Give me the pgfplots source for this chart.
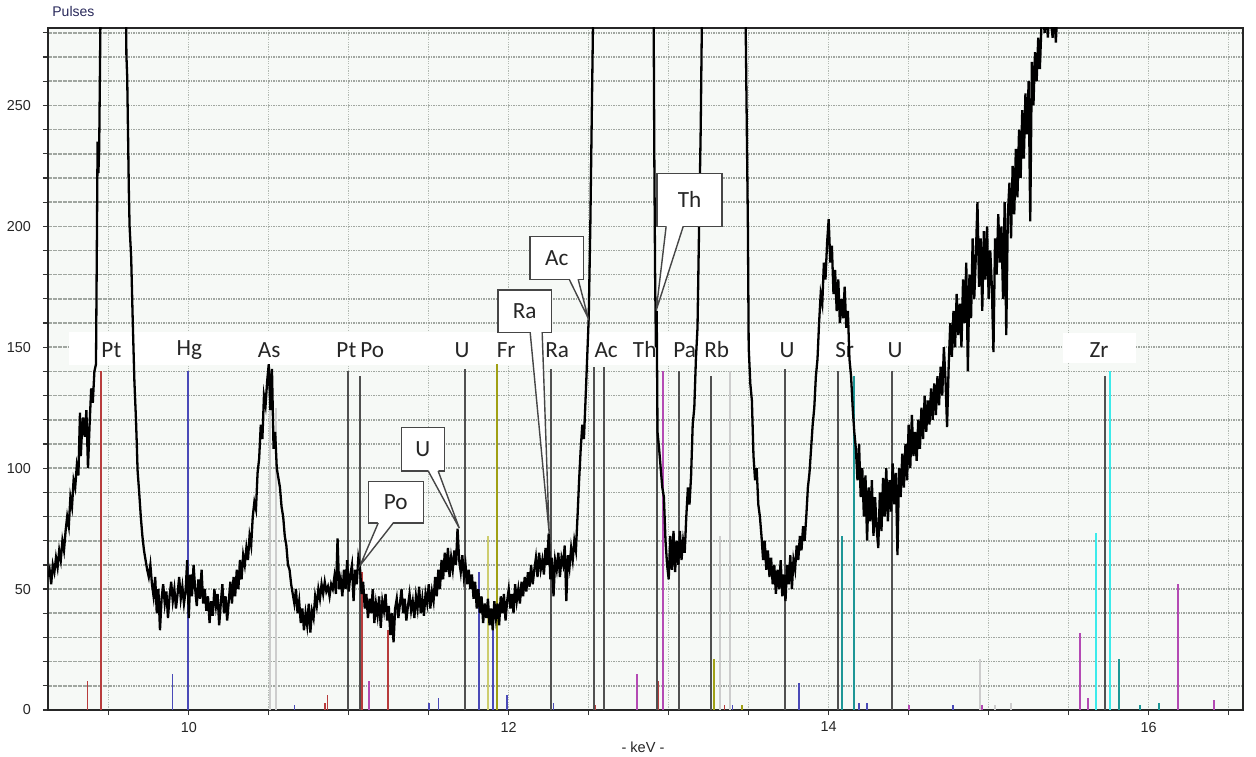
\documentclass[border=0pt]{standalone}
\usepackage{fontspec}
\setmainfont{Liberation Sans}
\newfontfamily\calib{Carlito}
\usepackage{pgfplots}
\pgfplotsset{compat=1.18}
\usetikzlibrary{calc}

\definecolor{plotbg}{RGB}{246,249,246}
\definecolor{gridh}{RGB}{160,166,160}
\definecolor{gridv}{RGB}{180,187,180}
\definecolor{ln}{RGB}{80,80,80}
\definecolor{lred}{RGB}{184,60,60}
\definecolor{lblue}{RGB}{74,74,184}
\definecolor{lgray}{RGB}{205,205,205}
\definecolor{lolive}{RGB}{160,160,20}
\definecolor{lolivel}{RGB}{205,205,110}
\definecolor{lmag}{RGB}{180,74,180}
\definecolor{lteal}{RGB}{30,150,150}
\definecolor{lcyan}{RGB}{60,235,235}
\definecolor{boxln}{RGB}{70,70,70}
\definecolor{pulsecol}{RGB}{40,40,90}

% element label in the white band
\newcommand{\lab}[2]{\node[font=\calib\fontsize{11.6}{13}\selectfont,text=black!85,inner sep=0pt] at (axis cs:#1,149) {#2};}
% callout: x1 x2 ybottom ytop basex1 basex2 tipx tipy text
\newcommand{\callout}[9]{%
  \filldraw[fill=white,draw=boxln,line width=0.7pt] (axis cs:#1,#3) rectangle (axis cs:#2,#4);
  \fill[white] ([yshift=0.6pt]axis cs:#5,#3) -- ([yshift=0.6pt]axis cs:#6,#3) -- (axis cs:#7,#8) -- cycle;
  \draw[boxln,line width=0.7pt] (axis cs:#5,#3) -- (axis cs:#7,#8) -- (axis cs:#6,#3);
  \node[font=\calib\fontsize{11.6}{13}\selectfont,text=black!85,inner sep=0pt] at ($(axis cs:#1,#3)!0.5!(axis cs:#2,#4)$) {#9};}

\begin{document}
\begin{tikzpicture}
\begin{axis}[
  scale only axis,
  width=597.5pt, height=341pt,
  xmin=9.12, xmax=16.59, ymin=0, ymax=282,
  axis background/.style={fill=plotbg},
  xtick={10,12,14,16},
  minor xtick={9.5,10.5,11,11.5,12.5,13,13.5,14.5,15,15.5,16.5},
  ytick={0,50,100,150,200,250},
  minor ytick={10,20,30,40,60,70,80,90,110,120,130,140,160,170,180,190,210,220,230,240,260,270,280},
  grid=both,
  major x grid style={gridv,line width=0.6pt,dash pattern=on 0.6pt off 0.6pt},
  minor x grid style={gridv,line width=0.6pt,dash pattern=on 0.6pt off 0.6pt},
  major y grid style={gridh,line width=0.8pt,dash pattern=on 0.8pt off 0.45pt},
  minor y grid style={gridh,line width=0.8pt,dash pattern=on 0.8pt off 0.45pt},
  tick pos=left,
  tick align=outside,
  major tick length=2.5pt, minor tick length=2.5pt,
  tick style={black!80,line width=0.6pt},
  axis line style={black!85,line width=1pt},
  ticklabel style={font=\fontsize{7.2}{8}\selectfont,text=black!85},
  yticklabel style={xshift=-2.5pt},
  /pgf/number format/assume math mode=true,
]

% white label band
\fill[white] (axis cs:9.253,142.6) rectangle (axis cs:14.722,156.2);
\fill[white] (axis cs:15.466,143.4) rectangle (axis cs:15.922,155.8);

% element lines
\addplot[ycomb,lgray,line width=0.8pt,forget plot] coordinates {
 (10.509,140)(10.547,125)(13.32,72)(13.384,140)(14.947,21)(15.04,2)(15.14,3)};
\addplot[ycomb,lred,line width=0.8pt,forget plot] coordinates {
 (9.366,12)(9.453,140)(10.853,3)(10.866,6)(11.084,57)(11.247,33)(12.54,2)(12.934,12)(13.26,2)(13.35,2)};
\addplot[ycomb,lblue,line width=0.8pt,forget plot] coordinates {
 (9.897,15)(9.997,140)(10.66,2)(11.503,3)(11.56,5)(11.816,57)(11.903,34)(11.99,6)(12.28,3)(13.40,2)(13.816,11)(14.19,3)(14.24,3)(14.778,2)};
\addplot[ycomb,lolivel,line width=0.8pt,forget plot] coordinates {(11.872,72)};
\addplot[ycomb,lolive,line width=0.8pt,forget plot] coordinates {(11.928,143)(13.284,21)(13.46,2)};
\addplot[ycomb,lmag,line width=0.8pt,forget plot] coordinates {
 (11.128,12)(12.803,15)(12.966,140)(14.503,2)(14.96,2)(15.572,32)(15.622,5)(16.184,52)(16.41,4)};
\addplot[ycomb,lteal,line width=0.8pt,forget plot] coordinates {
 (14.084,72)(14.159,138)(15.816,21)(15.947,2)(16.066,3)};
\addplot[ycomb,lcyan,line width=0.8pt,forget plot] coordinates {(15.672,73)(15.759,140)};
\addplot[ycomb,ln,line width=0.8pt,forget plot] coordinates {
 (10.997,140)(11.072,138)(11.728,141)(12.266,141)(12.534,142)(12.597,142)(12.928,140)(13.066,140)(13.266,138)(13.728,141)(14.06,140)(14.397,140)(15.728,138)};

% band labels
\lab{9.516}{Pt}\lab{10.003}{Hg}\lab{10.503}{As}\lab{10.985}{Pt}\lab{11.147}{Po}
\lab{11.709}{U}\lab{11.984}{Fr}\lab{12.303}{Ra}\lab{12.609}{Ac}\lab{12.85}{Th}
\lab{13.10}{Pa}\lab{13.30}{Rb}\lab{13.74}{U}\lab{14.10}{Sr}\lab{14.415}{U}\lab{15.69}{Zr}

% spectrum
\addplot[black,line width=1.15pt,mark=none] coordinates {
(9.12,55)(9.13,58)(9.14,52)(9.15,60)(9.16,57)(9.17,63)(9.18,59)(9.19,66)(9.20,62)(9.21,70)
(9.22,66)(9.23,74)(9.24,80)(9.25,76)(9.26,88)(9.27,84)(9.28,95)(9.29,92)(9.30,101)(9.31,97)
(9.32,123)(9.325,105)(9.33,112)(9.34,121)(9.35,113)(9.36,124)(9.37,100)(9.38,118)(9.39,133)(9.40,127)
(9.41,140)(9.42,143)(9.425,188)(9.43,235)(9.435,222)(9.44,232)(9.45,300)(9.48,600)(9.53,900)(9.58,600)
(9.605,320)(9.61,271)(9.615,262)(9.62,240)(9.625,216)(9.63,200)(9.64,187)(9.65,160)(9.66,136)(9.67,120)
(9.675,110)(9.68,99)(9.69,90)(9.70,80)(9.71,72)(9.72,66)(9.73,62)(9.74,58)
(9.75,55)(9.76,60)(9.77,52)(9.78,47)(9.79,55)(9.80,40)(9.81,50)(9.82,33)(9.83,46)(9.84,52)
(9.85,44)(9.86,49)(9.87,38)(9.88,47)(9.89,53)(9.90,45)(9.91,50)(9.92,42)(9.93,48)(9.94,55)
(9.95,46)(9.96,51)(9.97,44)(9.98,49)(9.99,62)(10.00,38)(10.01,56)(10.02,47)(10.03,60)(10.04,50)
(10.05,43)(10.06,54)(10.07,46)(10.08,58)(10.09,44)(10.10,50)(10.11,41)(10.12,47)(10.13,36)(10.14,45)
(10.15,39)(10.16,50)(10.17,43)(10.18,48)(10.19,35)(10.20,44)(10.21,52)(10.22,40)(10.23,47)(10.24,37)
(10.25,45)(10.26,53)(10.27,44)(10.28,55)(10.29,47)(10.30,58)(10.31,50)(10.32,62)(10.33,54)(10.34,64)
(10.35,60)(10.36,67)(10.37,62)
(10.38,72)(10.39,68)(10.40,80)(10.41,86)(10.42,83)(10.43,98)(10.44,104)(10.45,118)(10.46,112)(10.47,130)
(10.48,126)(10.49,136)(10.50,143)(10.51,124)(10.52,141)(10.53,108)(10.54,115)(10.55,100)(10.56,96)(10.57,92)
(10.58,84)(10.59,80)(10.60,72)(10.61,68)(10.62,60)(10.63,58)(10.64,52)
(10.65,48)(10.66,44)(10.67,50)(10.68,40)(10.69,45)(10.70,36)(10.71,42)(10.72,33)(10.73,40)(10.74,35)
(10.75,44)(10.76,32)(10.77,41)(10.78,38)(10.79,47)(10.80,43)(10.81,50)(10.82,46)(10.83,52)(10.84,48)
(10.85,53)(10.86,49)(10.87,51)(10.88,47)(10.89,52)(10.90,50)(10.91,55)(10.92,48)(10.93,71)(10.94,50)
(10.95,54)(10.96,47)(10.97,58)(10.98,50)(10.99,62)(11.00,49)(11.01,56)(11.02,60)(11.03,45)(11.04,58)
(11.05,52)(11.06,63)(11.07,59)(11.08,48)
(11.09,53)(11.10,42)(11.11,48)(11.12,38)(11.13,46)(11.14,40)(11.15,50)(11.16,36)(11.17,44)(11.18,39)
(11.19,47)(11.20,34)(11.21,45)(11.22,41)(11.23,48)(11.24,37)(11.25,43)(11.26,31)(11.27,40)(11.28,28)
(11.29,42)(11.30,46)(11.31,38)(11.32,44)(11.33,50)(11.34,40)(11.35,46)(11.36,37)(11.37,43)(11.38,48)
(11.39,41)(11.40,45)(11.41,38)(11.42,47)(11.43,42)(11.44,51)(11.45,40)(11.46,46)(11.47,39)(11.48,48)
(11.49,44)(11.50,52)(11.51,42)(11.52,49)(11.53,45)(11.54,55)(11.55,47)
(11.56,58)(11.57,50)(11.58,62)(11.59,54)(11.60,65)(11.61,57)(11.62,67)(11.63,55)(11.64,63)(11.65,58)
(11.66,66)(11.67,60)(11.68,75)(11.69,62)(11.70,57)(11.71,64)(11.72,55)(11.73,60)(11.74,52)(11.75,58)
(11.76,50)(11.77,56)(11.78,46)(11.79,53)(11.80,42)(11.81,50)(11.82,40)(11.83,47)(11.84,36)(11.85,44)
(11.86,38)(11.87,46)(11.88,35)(11.89,42)(11.90,33)(11.91,45)(11.92,38)(11.93,44)(11.94,35)(11.95,47)
(11.96,40)(11.97,48)(11.98,37)(11.99,45)(12.00,50)(12.01,42)(12.02,48)(12.03,40)(12.04,52)(12.05,45)
(12.06,50)(12.07,44)(12.08,53)(12.09,47)(12.10,55)(12.11,49)(12.12,57)(12.13,51)(12.14,60)(12.15,52)
(12.16,58)(12.17,63)(12.18,55)(12.19,65)(12.20,58)(12.21,62)(12.22,56)(12.23,67)(12.24,60)(12.25,73)
(12.26,54)(12.27,63)(12.28,47)(12.29,62)(12.30,58)(12.31,65)(12.32,55)(12.33,63)(12.34,60)(12.35,68)
(12.36,45)(12.37,64)(12.38,59)(12.39,67)(12.40,62)(12.41,70)(12.42,66)(12.43,80)(12.44,95)(12.45,108)
(12.46,118)(12.47,112)(12.48,128)(12.49,145)(12.50,162)(12.51,200)(12.52,250)(12.53,300)(12.56,600)(12.72,900)
(12.88,600)(12.905,300)(12.91,230)(12.915,180)(12.92,150)(12.925,165)(12.93,115)(12.94,108)(12.95,100)(12.96,92)
(12.97,88)(12.98,70)(12.99,60)(13.00,54)(13.01,72)(13.02,58)(13.03,74)(13.04,57)(13.05,70)(13.06,60)
(13.07,74)(13.08,62)(13.09,70)(13.10,65)(13.11,80)(13.12,92)(13.13,85)(13.14,97)(13.15,118)(13.16,125)
(13.17,145)(13.18,158)(13.19,200)(13.20,240)(13.21,300)(13.25,600)(13.35,900)(13.45,600)(13.475,300)(13.48,290)
(13.49,230)(13.495,200)(13.50,150)(13.51,135)(13.52,128)(13.53,105)(13.54,95)(13.55,100)(13.56,85)(13.57,80)
(13.58,72)(13.59,62)(13.60,70)(13.61,58)(13.62,66)(13.63,55)(13.64,63)(13.65,52)(13.66,60)(13.67,48)
(13.68,58)(13.69,50)(13.70,62)(13.71,47)(13.72,56)(13.73,45)(13.74,60)(13.75,52)(13.76,64)(13.77,50)
(13.78,62)(13.79,58)(13.80,68)(13.81,62)(13.82,72)(13.83,66)(13.84,76)(13.85,70)(13.86,80)(13.87,92)
(13.88,98)(13.89,108)(13.90,118)(13.91,125)(13.92,138)(13.93,145)(13.94,160)(13.95,172)(13.96,168)(13.97,185)
(13.98,178)(13.99,193)(14.00,203)(14.01,185)(14.02,192)(14.03,172)(14.04,182)(14.05,165)(14.06,178)(14.07,160)
(14.08,170)(14.09,162)(14.10,175)(14.11,158)(14.12,165)(14.13,145)(14.14,138)(14.15,125)(14.16,115)(14.17,108)
(14.18,95)(14.19,110)(14.20,88)(14.21,100)(14.22,80)(14.23,97)(14.24,70)(14.25,92)(14.26,78)(14.27,95)
(14.28,72)(14.29,88)(14.30,75)(14.31,67)(14.32,90)(14.33,74)(14.34,96)(14.35,80)(14.36,100)(14.37,78)
(14.38,95)(14.39,82)(14.40,102)(14.41,85)(14.42,98)(14.43,64)(14.44,100)(14.45,88)(14.46,106)(14.47,92)
(14.48,110)(14.49,95)(14.50,118)(14.51,100)(14.52,122)(14.53,105)(14.54,115)(14.55,103)(14.56,120)(14.57,108)
(14.58,125)(14.59,112)(14.60,130)(14.61,115)(14.62,128)(14.63,118)(14.64,133)(14.65,120)(14.66,135)(14.67,122)
(14.68,138)(14.69,126)(14.70,142)(14.71,130)(14.72,150)(14.73,137)(14.74,117)(14.75,142)(14.76,160)(14.77,146)
(14.78,165)(14.79,150)(14.80,172)(14.81,155)(14.82,168)(14.83,150)(14.84,178)(14.85,160)(14.86,185)(14.87,140)
(14.88,180)(14.89,162)(14.90,195)(14.91,170)(14.92,188)(14.93,210)(14.94,175)(14.95,195)(14.96,165)(14.97,198)
(14.98,178)(14.99,200)(15.00,170)(15.01,190)(15.02,175)(15.03,148)(15.04,195)(15.05,180)(15.06,205)(15.07,185)
(15.08,200)(15.09,170)(15.10,210)(15.11,155)(15.12,205)(15.13,218)(15.14,195)(15.15,225)(15.16,205)(15.17,232)
(15.18,212)(15.19,240)(15.20,220)(15.21,248)(15.22,228)(15.23,255)(15.24,238)(15.25,260)(15.26,202)(15.27,268)
(15.28,250)(15.29,272)(15.30,260)(15.31,278)(15.32,265)(15.33,283)(15.34,288)(15.35,280)(15.36,290)(15.37,278)
(15.38,295)(15.39,284)(15.40,278)(15.41,290)(15.42,276)(15.43,290)(15.44,320)(15.50,400)(16.00,450)(16.59,450)
};

% callouts
\callout{11.122}{11.466}{77.3}{94.6}{11.184}{11.278}{11.072}{59.9}{Po}
\callout{11.328}{11.597}{98.8}{116.9}{11.497}{11.559}{11.691}{75.2}{U}
\callout{11.934}{12.266}{156.2}{173.6}{12.134}{12.209}{12.253}{73.1}{Ra}
\callout{12.134}{12.466}{178.1}{195.9}{12.378}{12.434}{12.497}{162.0}{Ac}
\callout{12.928}{13.334}{200.0}{221.9}{12.984}{13.091}{12.922}{165.3}{Th}
\end{axis}
\node[font=\fontsize{7}{8}\selectfont,text=pulsecol,anchor=west,inner sep=0pt] at (2pt,349pt) {Pulses};
\node[font=\fontsize{7.3}{8}\selectfont,text=black!85,inner sep=0pt] at (297.5pt,-18.5pt) {- keV -};
\pgfresetboundingbox
\path[use as bounding box] (-24pt,-23pt) rectangle (604pt,355pt);
\end{tikzpicture}
\end{document}
